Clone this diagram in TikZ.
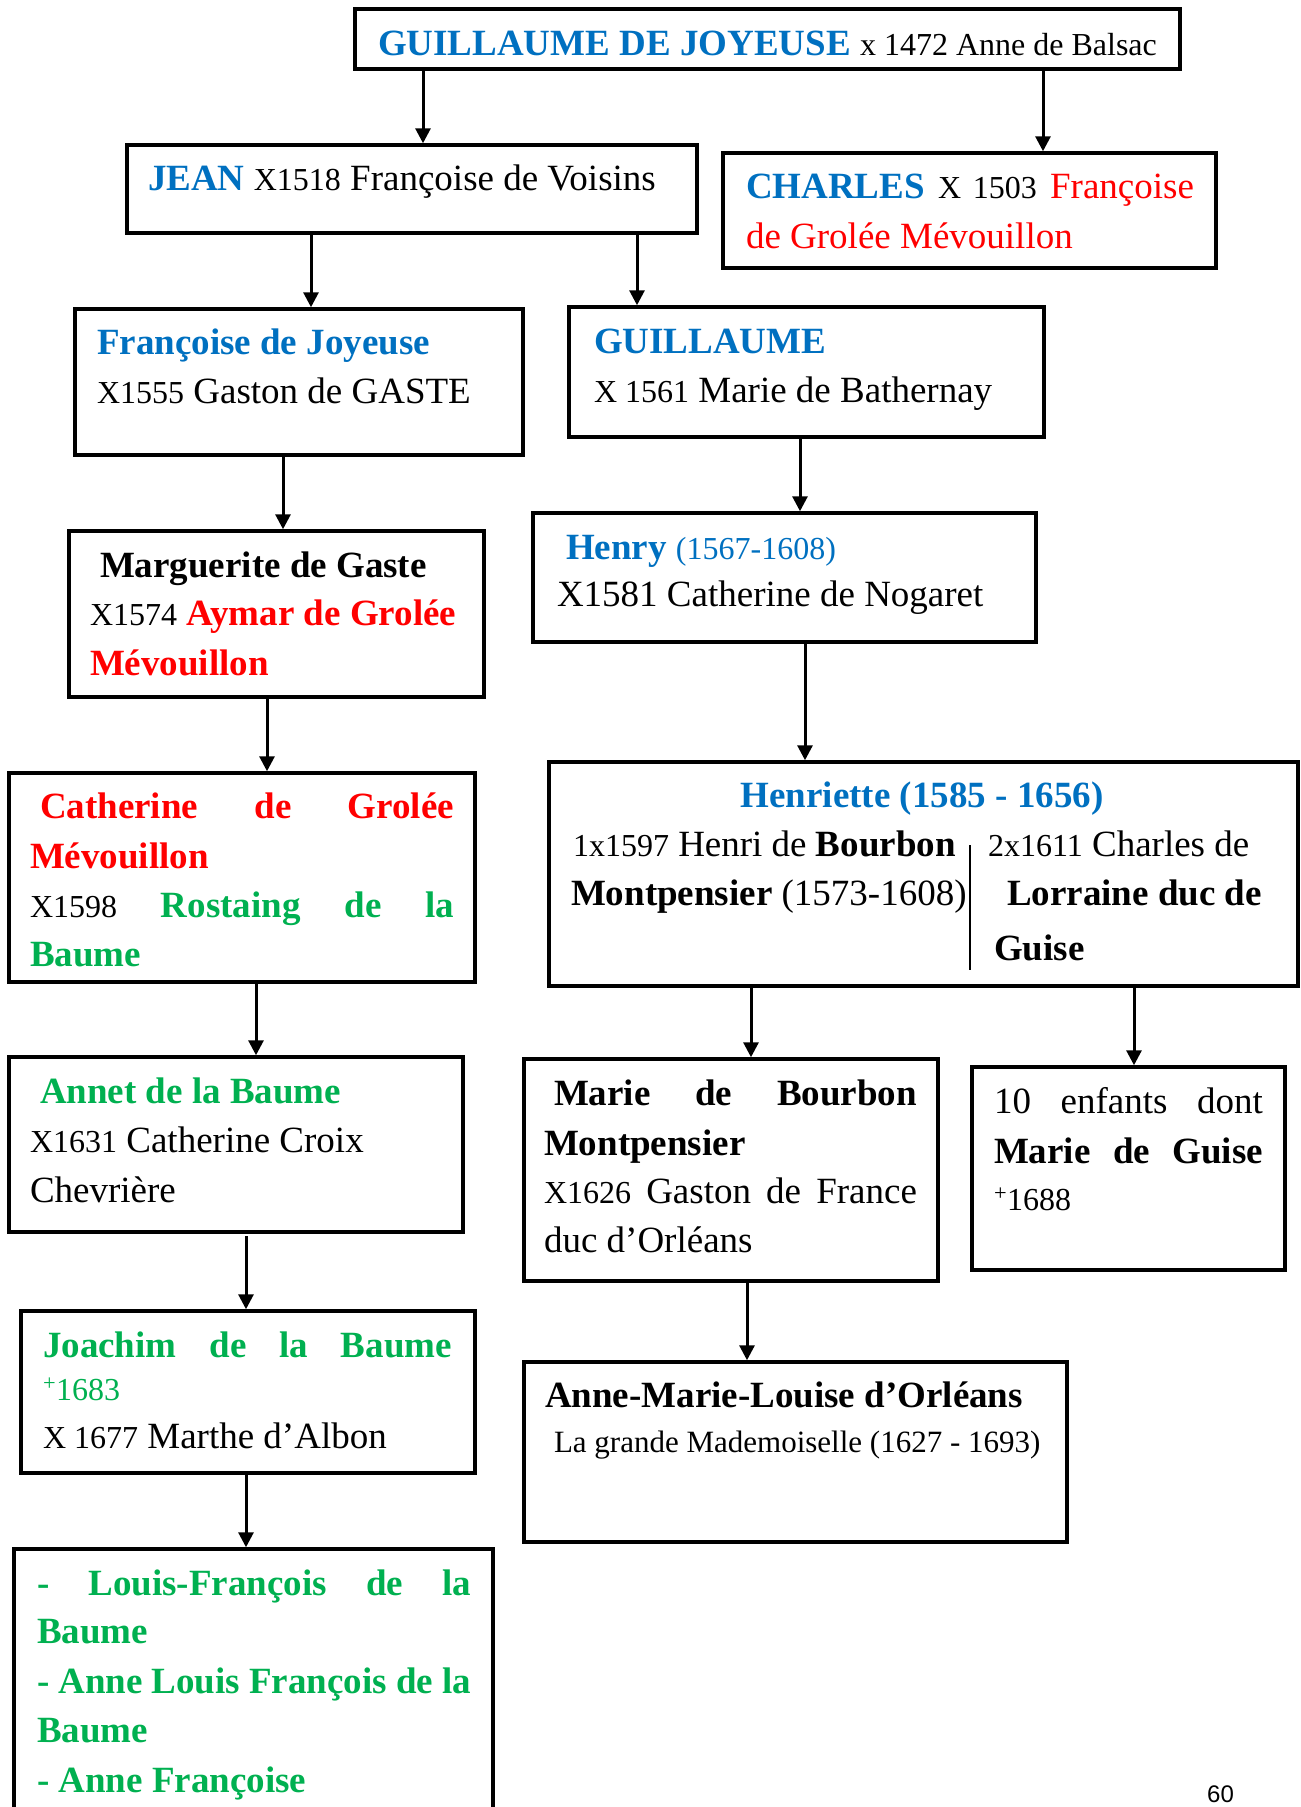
\documentclass[tikz,border=0pt]{standalone}
\usepackage{fontspec}
\setmainfont{Liberation Serif}
\newfontfamily\pagenumfont{Liberation Sans}
\usetikzlibrary{arrows.meta}

\definecolor{jblue}{HTML}{0070C0}
\definecolor{jred}{HTML}{FF0000}
\definecolor{jgreen}{HTML}{00B050}

% text sizes: main text and the smaller marriage years
\newcommand\szA{\fontsize{37}{44}\selectfont}
\newcommand\szB{\fontsize{32}{38}\selectfont}
\newcommand\szC{\fontsize{31}{37}\selectfont}

\begin{document}
\begin{tikzpicture}[x=1pt,y=-1pt,
  box/.style={draw, line width=3.5pt, anchor=north west, inner sep=0pt, outer sep=0pt},
  arr/.style={line width=3pt, -{Triangle[length=15pt,width=15pt]}, shorten >=1.75pt},
  txt/.style={anchor=base west, inner sep=0pt, outer sep=0pt, font=\szA},
  ctxt/.style={anchor=base, inner sep=0pt, outer sep=0pt, font=\szA},
  bl/.style={text=jblue},
  rd/.style={text=jred},
  gr/.style={text=jgreen}]

\useasboundingbox (0,0) rectangle (1301,1807);

% ---- family boxes ----
\node[box, minimum width=825pt, minimum height=60pt]  (top)      at (355,9)    {};
\node[box, minimum width=570pt, minimum height=88pt]  (jean)     at (127,145)  {};
\node[box, minimum width=493pt, minimum height=115pt] (charles)  at (723,153)  {};
\node[box, minimum width=448pt, minimum height=146pt] (fjoy)     at (75,309)   {};
\node[box, minimum width=475pt, minimum height=130pt] (guil)     at (569,307)  {};
\node[box, minimum width=415pt, minimum height=166pt] (marg)     at (69,531)   {};
\node[box, minimum width=503pt, minimum height=129pt] (henry)    at (533,513)  {};
\node[box, minimum width=466pt, minimum height=209pt] (cath)     at (9,773)    {};
\node[box, minimum width=749pt, minimum height=224pt] (henr)     at (549,762)  {};
\node[box, minimum width=454pt, minimum height=175pt] (annet)    at (9,1057)   {};
\node[box, minimum width=414pt, minimum height=222pt] (marie)    at (524,1059) {};
\node[box, minimum width=313pt, minimum height=203pt] (enf)      at (972,1067) {};
\node[box, minimum width=454pt, minimum height=162pt] (joach)    at (21,1311)  {};
\node[box, minimum width=543pt, minimum height=180pt] (amlo)     at (524,1362) {};
\node[box, minimum width=479pt, minimum height=290pt] (louis)    at (14,1549)  {};

% ---- texts ----
\node[txt] (t-top) at (378,55) {{\bfseries\color{jblue}GUILLAUME DE JOYEUSE} {\szB x 1472 Anne de Balsac}};

\node[txt] (t-jean) at (148,190) {{\bfseries\color{jblue}JEAN} {\szB X1518} Françoise de Voisins};

\node[txt] (t-charles1) at (746,198) {\makebox[448pt][s]{{\bfseries\color{jblue}CHARLES} {\szB X 1503} {\color{jred}Françoise}}};
\node[txt, rd] (t-charles2) at (746,248) {de Grolée Mévouillon};

\node[txt, bl] (t-fjoy1) at (97,354) {\bfseries Françoise de Joyeuse};
\node[txt] (t-fjoy2) at (97,403) {{\szB X1555} Gaston de GASTE};

\node[txt, bl] (t-guil1) at (594,353) {\bfseries GUILLAUME};
\node[txt] (t-guil2) at (594,402) {{\szB X 1561} Marie de Bathernay};

\node[txt] (t-marg1) at (100,577) {\bfseries Marguerite de Gaste};
\node[txt] (t-marg2) at (90,625) {{\szB X1574} {\bfseries\color{jred}Aymar de Grolée}};
\node[txt, rd] (t-marg3) at (90,675) {\bfseries Mévouillon};

\node[txt, bl] (t-henry1) at (566,559) {{\bfseries Henry} {\szB (1567-1608)}};
\node[txt] (t-henry2) at (557,606) {X1581 Catherine de Nogaret};

\node[txt, rd] (t-cath1) at (40,818) {\makebox[414pt][s]{\bfseries Catherine de Grolée}};
\node[txt, rd] (t-cath2) at (30,868) {\bfseries Mévouillon};
\node[txt] (t-cath3) at (30,917) {\makebox[424pt][s]{{\szB X1598} {\bfseries\color{jgreen}Rostaing de la}}};
\node[txt, gr] (t-cath4) at (30,966) {\bfseries Baume};

\node[ctxt, bl] (t-henr1) at (922,807) {\bfseries Henriette (1585 - 1656)};
\node[txt] (t-henr2a) at (573,856) {{\szB 1x1597} Henri de {\bfseries Bourbon}};
\node[txt] (t-henr3a) at (571,905) {{\bfseries Montpensier} (1573-1608)};
\node[txt] (t-henr2b) at (988,856) {{\szB 2x1611} Charles de};
\node[txt] (t-henr3b) at (1007,905) {\bfseries Lorraine duc de};
\node[txt] (t-henr4b) at (994,960) {\bfseries Guise};
\draw[line width=2.5pt] (970,845) -- (970,970);

\node[txt, gr] (t-annet1) at (40,1103) {\bfseries Annet de la Baume};
\node[txt] (t-annet2) at (30,1152) {{\szB X1631} Catherine Croix};
\node[txt] (t-annet3) at (30,1202) {Chevrière};

\node[txt] (t-marie1) at (554,1105) {\makebox[363pt][s]{\bfseries Marie de Bourbon}};
\node[txt] (t-marie2) at (544,1155) {\bfseries Montpensier};
\node[txt] (t-marie3) at (544,1203) {\makebox[373pt][s]{{\szB X1626} Gaston de France}};
\node[txt] (t-marie4) at (544,1252) {duc d’Orléans};

\node[txt] (t-enf1) at (994,1113) {\makebox[269pt][s]{10 enfants dont}};
\node[txt] (t-enf2) at (994,1163) {\makebox[269pt][s]{\bfseries Marie de Guise}};
\node[txt] (t-enf3) at (994,1210) {\szB\textsuperscript{+}1688};

\node[txt, gr] (t-joach1) at (43,1357) {\makebox[409pt][s]{\bfseries Joachim de la Baume}};
\node[txt, gr] (t-joach2) at (43,1400) {\szB\textsuperscript{+}1683};
\node[txt] (t-joach3) at (43,1448) {{\szB X 1677} Marthe d’Albon};

\node[txt] (t-amlo1) at (545,1407) {\bfseries Anne-Marie-Louise d’Orléans};
\node[txt] (t-amlo2) at (554,1452) {\szC La grande Mademoiselle (1627 - 1693)};

\node[txt, gr] (t-louis1) at (37,1595) {\makebox[434pt][s]{\bfseries - Louis-François de la}};
\node[txt, gr] (t-louis2) at (37,1643) {\bfseries Baume};
\node[txt, gr] (t-louis3) at (37,1693) {\makebox[434pt][s]{\bfseries - Anne Louis François de la}};
\node[txt, gr] (t-louis4) at (37,1742) {\bfseries Baume};
\node[txt, gr] (t-louis5) at (37,1792) {\bfseries - Anne Françoise};

\node[anchor=base west, inner sep=0pt, font=\pagenumfont\fontsize{24}{28}\selectfont] (pagenum) at (1207,1802) {60};

% ---- descent lines ----
\coordinate (x1) at (423,0);
\coordinate (x2) at (1043,0);
\coordinate (x3) at (311,0);
\coordinate (x4) at (637,0);
\coordinate (x5) at (283,0);
\coordinate (x6) at (800,0);
\coordinate (x7) at (267,0);
\coordinate (x8) at (805,0);
\coordinate (x9) at (256,0);
\coordinate (x10) at (751,0);
\coordinate (x11) at (1134,0);
\coordinate (x12) at (246,0);
\coordinate (x13) at (747,0);

\draw[arr] (top.south -| x1) -- (jean.north -| x1);
\draw[arr] (top.south -| x2) -- (charles.north -| x2);
\draw[arr] (jean.south -| x3) -- (fjoy.north -| x3);
\draw[arr] (jean.south -| x4) -- (guil.north -| x4);
\draw[arr] (fjoy.south -| x5) -- (marg.north -| x5);
\draw[arr] (guil.south -| x6) -- (henry.north -| x6);
\draw[arr] (marg.south -| x7) -- (cath.north -| x7);
\draw[arr] (henry.south -| x8) -- (henr.north -| x8);
\draw[arr] (cath.south -| x9) -- (annet.north -| x9);
\draw[arr] (henr.south -| x10) -- (marie.north -| x10);
\draw[arr] (henr.south -| x11) -- (enf.north -| x11);
\draw[arr] ([yshift=-4pt]annet.south -| x12) -- (joach.north -| x12);
\draw[arr] (marie.south -| x13) -- (amlo.north -| x13);
\draw[arr] (joach.south -| x12) -- (louis.north -| x12);
\end{tikzpicture}
\end{document}
